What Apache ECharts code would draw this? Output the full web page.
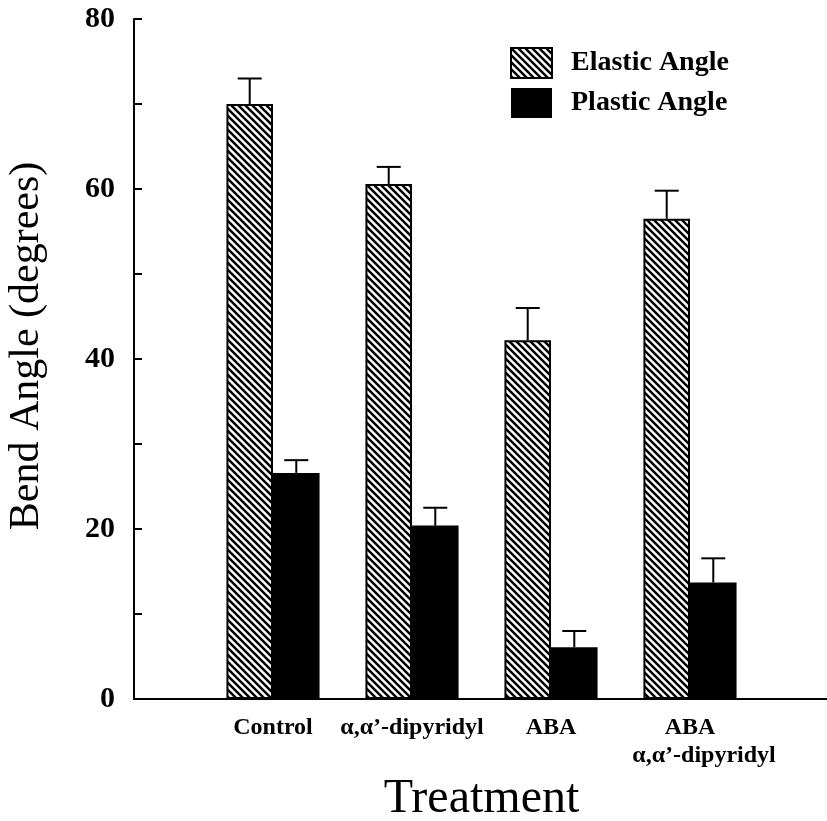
<!DOCTYPE html>
<html>
<head>
<meta charset="utf-8">
<script src="https://cdn.jsdelivr.net/npm/echarts@6/dist/echarts.min.js"></script>
<style>
html,body{margin:0;padding:0;background:#fff;}
#chart{width:827px;height:821px;}
</style>
</head>
<body>
<div id="chart"></div>
<script>
// ---- data ----
const categories = ['', 'Control', 'α,α’-dipyridyl', 'ABA', 'ABA\nα,α’-dipyridyl', ''];
const elasticAngle = [null, 70.0, 60.6, 42.2, 56.5, null];
const elasticErr   = [null, 3.0, 2.0, 3.8, 3.3, null];
const plasticAngle = [null, 26.6, 20.4, 6.1, 13.7, null];
const plasticErr   = [null, 1.5, 2.1, 1.9, 2.85, null];
const yTicks = [0, 20, 40, 60, 80];

// ---- hatch pattern ----
function makeHatch() {
  const s = 7;
  const c = document.createElement('canvas');
  c.width = s; c.height = s;
  const ctx = c.getContext('2d');
  ctx.fillStyle = '#fff';
  ctx.fillRect(0, 0, s, s);
  ctx.strokeStyle = '#000';
  ctx.lineWidth = 2.5;
  [-s, 0, s].forEach(k => {
    ctx.beginPath();
    ctx.moveTo(k - 1, -1);
    ctx.lineTo(k + s + 1, s + 1);
    ctx.stroke();
  });
  return c;
}
const hatch = { image: makeHatch(), repeat: 'repeat' };

const FONT = '"Liberation Serif", "Times New Roman", serif';
const BAR_FRAC = 0.335;

function errData(vals, errs) {
  const out = [];
  vals.forEach((v, i) => { if (v != null) out.push([i, v, errs[i]]); });
  return out;
}
function errRender(sign) {
  return function (params, api) {
    const i = api.value(0), v = api.value(1), e = api.value(2);
    const band = api.size([1, 0])[0];
    const base = api.coord([i, v]);
    const top = api.coord([i, v + e]);
    const x = base[0] + sign * band * BAR_FRAC / 2;
    const st = { stroke: '#000', lineWidth: 2 };
    return {
      type: 'group',
      children: [
        { type: 'line', shape: { x1: x, y1: base[1], x2: x, y2: top[1] }, style: st },
        { type: 'line', shape: { x1: x - 12, y1: top[1], x2: x + 12, y2: top[1] }, style: st }
      ]
    };
  };
}

const labelFont = { fontFamily: FONT, fontSize: 24, fontWeight: 'bold', color: '#000', lineHeight: 28 };

const chart = echarts.init(document.getElementById('chart'), null, { renderer: 'canvas' });
chart.setOption({
  animation: false,
  backgroundColor: '#fff',
  grid: { left: 134, top: 19, width: 695, bottom: 122, containLabel: false, outerBoundsMode: 'none' },
  legend: {
    orient: 'vertical',
    left: 510, top: 47, padding: 0,
    itemWidth: 41, itemHeight: 30, itemGap: 9,
    icon: 'rect',
    data: ['Elastic Angle', 'Plastic Angle'],
    textStyle: { fontFamily: FONT, fontSize: 28, fontWeight: 'bold', color: '#000', padding: [0, 0, 0, 14] }
  },
  xAxis: {
    type: 'category',
    data: categories,
    boundaryGap: false,
    axisLine: { lineStyle: { color: '#000', width: 2 } },
    axisTick: { show: false },
    axisLabel: Object.assign({
      interval: 0, margin: 15,
      formatter: function (v) {
        const parts = v.split('\n');
        if (parts.length < 2) return v;
        return '{a|' + parts[0] + '}\n{b|' + parts.slice(1).join('\n') + '}';
      },
      rich: {
        a: Object.assign({}, labelFont),
        b: Object.assign({ padding: [0, 0, 0, 28] }, labelFont)
      }
    }, labelFont),
    name: 'Treatment',
    nameLocation: 'middle',
    nameGap: 74,
    nameTextStyle: { fontFamily: FONT, fontSize: 48, color: '#000' }
  },
  yAxis: {
    type: 'value',
    min: yTicks[0], max: yTicks[yTicks.length - 1], interval: 20,
    splitLine: { show: false },
    axisLine: { show: true, lineStyle: { color: '#000', width: 2 } },
    axisTick: { show: true, inside: true, length: 8, lineStyle: { color: '#000', width: 2 } },
    minorTick: { show: true, splitNumber: 2, length: 8, lineStyle: { color: '#000', width: 2 } },
    axisLabel: { margin: 19, fontFamily: FONT, fontSize: 30, fontWeight: 'bold', color: '#000' },
    name: 'Bend Angle (degrees)',
    nameLocation: 'middle',
    nameGap: 86,
    nameTextStyle: { fontFamily: FONT, fontSize: 42, color: '#000', padding: [0, 0, 0, 26] }
  },
  series: [
    {
      name: 'Elastic Angle', type: 'bar',
      data: elasticAngle,
      barWidth: (BAR_FRAC * 100) + '%', barGap: '0%',
      itemStyle: { color: hatch, borderColor: '#000', borderWidth: 2 }
    },
    {
      name: 'Plastic Angle', type: 'bar',
      data: plasticAngle,
      barWidth: (BAR_FRAC * 100) + '%', barGap: '0%',
      itemStyle: { color: '#000', borderColor: '#000', borderWidth: 0 }
    },
    {
      type: 'custom', z: 5, silent: true,
      renderItem: errRender(-1),
      data: errData(elasticAngle, elasticErr)
    },
    {
      type: 'custom', z: 5, silent: true,
      renderItem: errRender(1),
      data: errData(plasticAngle, plasticErr)
    }
  ]
});
</script>
</body>
</html>
